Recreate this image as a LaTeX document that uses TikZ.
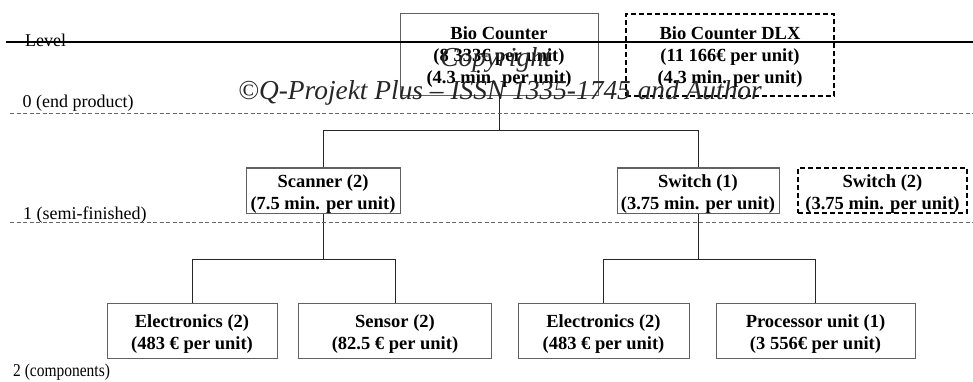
\documentclass[tikz,border=0pt]{standalone}
\usepackage{fontspec}
\setmainfont{Liberation Serif}
\newcommand{\boxfont}{\bfseries\fontsize{18.5}{22}\selectfont}
\newcommand{\lvlfont}{\fontsize{18}{20}\selectfont}
\newcommand{\wmfont}{\itshape\fontsize{27.4}{30}\selectfont}
\begin{document}
\begin{tikzpicture}[x=1pt,y=-1pt,
  box/.style={draw=black!62, line width=1pt, inner sep=0pt},
  optbox/.style={draw=black, line width=1.6pt, dash pattern=on 5pt off 3pt, inner sep=0pt},
  boxtext/.style={inner sep=0pt, align=center, font=\boxfont, yshift=-3.5pt},
  link/.style={draw=black!85, line width=1pt},
  lvlline/.style={draw=black!60, line width=0.8pt, dash pattern=on 4pt off 2.5pt},
  toprule/.style={draw=black, line width=1.5pt},
  lvltext/.style={anchor=base west, inner sep=0pt, font=\lvlfont},
  wmtext/.style={inner sep=0pt, font=\wmfont, text=black!85}]
\useasboundingbox (0,0) rectangle (973,382);

% level 0: end products
\node[box, minimum width=198pt, minimum height=82pt] (bio) at (499,55) {};
\node[boxtext, yshift=1.5pt] (bio-t) at (bio.center) {Bio Counter\\(8 333€ per unit)\\(4.3 min. per unit)};
\node[optbox, minimum width=208pt, minimum height=82pt] (dlx) at (730,55) {};
\node[boxtext, yshift=1.5pt] (dlx-t) at (dlx.center) {Bio Counter DLX\\(11 166€ per unit)\\(4.3 min. per unit)};

% level 1: semi-finished parts
\node[box, minimum width=154pt, minimum height=45pt] (scanner) at (323,190.5) {};
\node[boxtext] (scanner-t) at (scanner.center) {Scanner (2)\\(7.5 min. per unit)};
\node[box, minimum width=162pt, minimum height=45pt] (switch1) at (698,190.5) {};
\node[boxtext] (switch1-t) at (switch1.center) {Switch (1)\\(3.75 min. per unit)};
\node[optbox, minimum width=169pt, minimum height=45pt] (switch2) at (882.5,190.5) {};
\node[boxtext] (switch2-t) at (switch2.center) {Switch (2)\\(3.75 min. per unit)};

% level 2: components
\node[box, minimum width=170pt, minimum height=55pt] (elec1) at (192,330.5) {};
\node[boxtext] (elec1-t) at (elec1.center) {Electronics (2)\\(483 € per unit)};
\node[box, minimum width=193pt, minimum height=55pt] (sensor) at (395,330.5) {};
\node[boxtext] (sensor-t) at (sensor.center) {Sensor (2)\\(82.5 € per unit)};
\node[box, minimum width=171pt, minimum height=55pt] (elec2) at (603.5,330.5) {};
\node[boxtext] (elec2-t) at (elec2.center) {Electronics (2)\\(483 € per unit)};
\node[box, minimum width=199pt, minimum height=55pt] (proc) at (815.5,330.5) {};
\node[boxtext] (proc-t) at (proc.center) {Processor unit (1)\\(3 556€ per unit)};

% bus heights of the tree
\coordinate (bus0) at (499,131);
\coordinate (bus1) at (323,259);

% tree connectors
\draw[link] (bio.south) -- (bus0);
\draw[link] (scanner.north) -- (scanner.north |- bus0) -- (switch1.north |- bus0) -- (switch1.north);
\draw[link] (scanner.south) -- (scanner.south |- bus1);
\draw[link] (elec1.north) -- (elec1.north |- bus1) -- (sensor.north |- bus1) -- (sensor.north);
\draw[link] (switch1.south) -- (switch1.south |- bus1);
\draw[link] (elec2.north) -- (elec2.north |- bus1) -- (proc.north |- bus1) -- (proc.north);

% level rules
\coordinate (r0a) at (6,42);   \coordinate (r0b) at (973,42);
\coordinate (r1a) at (10,113); \coordinate (r1b) at (973,113);
\coordinate (r2a) at (10,222); \coordinate (r2b) at (973,222);
\draw[lvlline] (r1a) -- (r1b);
\draw[lvlline] (r2a) -- (r2b);

% level labels
\node[lvltext] (lv) at (25,47) {Level};
\node[lvltext] (lv0) at (22.5,108) {0 (end product)};
\node[lvltext] (lv1) at (23,219) {1 (semi-finished)};
\node[lvltext] (lv2) at (13,376) {\scalebox{0.86}[1]{2 (components)}};

\draw[toprule] (r0a) -- (r0b);

% watermark
\node[wmtext, anchor=base] (wm1) at (496,67) {Copyright};
\node[wmtext, anchor=base west] (wm2) at (238,100) {©Q-Projekt Plus – ISSN 1335-1745 and Author};
\end{tikzpicture}
\end{document}
